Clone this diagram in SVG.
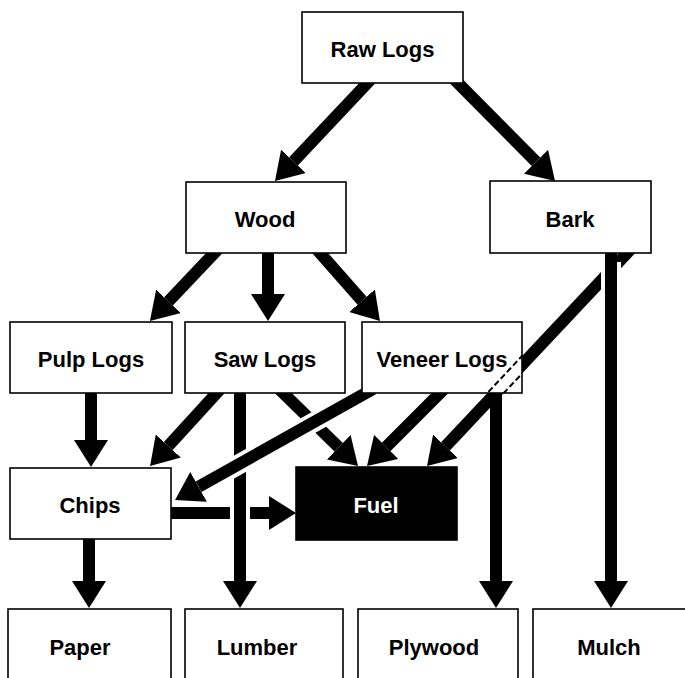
<svg xmlns="http://www.w3.org/2000/svg" width="685" height="678" viewBox="0 0 685 678">
<style>
.box{fill:#fff;stroke:#000;stroke-width:1.6}
.dark{fill:#000;stroke:#000;stroke-width:1.6}
.lbl{font-family:"Liberation Sans",Arial,Helvetica,sans-serif;font-weight:bold;font-size:22px;text-anchor:middle;fill:#000}
.lblw{fill:#fff}
.sh{stroke:#000;stroke-width:12;fill:none;marker-end:url(#ah)}
.halo{stroke:#fff;stroke-width:20;fill:none}
.dash{stroke:#000;stroke-width:2;stroke-dasharray:6 3;fill:none}
</style>
<defs>
<marker id="ah" viewBox="0 -17 27 34" refX="0" refY="0" markerWidth="27" markerHeight="34" markerUnits="userSpaceOnUse" orient="auto">
<path d="M0,-17 L27,0 L0,17 Z" fill="#000"/>
</marker>
<clipPath id="vclip"><rect x="362" y="322" width="160" height="71"/></clipPath>
</defs>
<rect width="685" height="678" fill="#fff"/>
<g id="connectors">
<path class="sh" d="M374,76 L293.5,161.3"/>
<path class="sh" d="M451,76 L536,161.8"/>
<path class="sh" d="M221,246 L168.5,301.3"/>
<path class="sh" d="M268,246 L268,294"/>
<path class="sh" d="M313,245 L362.1,300.7"/>
<path class="sh" d="M91,386 L91,440"/>
<path class="sh" d="M224,385 L168.3,446"/>
<path class="sh" d="M277,387 L338.7,447.2"/>
<path class="sh" d="M447,386 L386.1,446.9"/>
<path class="sh" d="M165,513 L269,513"/>
<path class="sh" d="M89,532 L89,581"/>
<path class="sh" d="M496,386 L496,581"/>
<path class="sh" d="M644,235 L445.5,446.3"/>
<path class="halo" d="M611,262 L611,296"/>
<path class="sh" d="M611,246 L611,581"/>
<path class="halo" d="M240,500 L240,526"/>
<path class="sh" d="M240,386 L240,581"/>
<path class="halo" d="M340,407.6 L220,475"/>
<path class="sh" d="M373,389 L198.6,486.8"/>
</g>
<g id="nodes">
<g id="raw-logs"><rect class="box" x="302" y="12" width="161" height="71"/><text class="lbl" x="382.5" y="57">Raw Logs</text></g>
<g id="wood"><rect class="box" x="186" y="182" width="160" height="71"/><text class="lbl" x="265" y="227">Wood</text></g>
<g id="bark"><rect class="box" x="490" y="181" width="161" height="72"/><text class="lbl" x="570" y="227">Bark</text></g>
<g id="pulp-logs"><rect class="box" x="10" y="322" width="162" height="71"/><text class="lbl" x="91" y="367">Pulp Logs</text></g>
<g id="saw-logs"><rect class="box" x="185" y="322" width="160" height="71"/><text class="lbl" x="265" y="367">Saw Logs</text></g>
<g id="veneer-logs"><rect class="box" x="362" y="322" width="160" height="71"/><text class="lbl" x="442" y="367">Veneer Logs</text>
<g clip-path="url(#vclip)"><path class="dash" d="M554.1,321.8 L451.5,431.2"/><path class="dash" d="M562.9,330 L460.3,439.4"/></g></g>
<g id="chips"><rect class="box" x="10" y="468" width="161" height="71"/><text class="lbl" x="90" y="513">Chips</text></g>
<g id="fuel"><rect class="dark" x="296" y="467" width="161" height="73"/><text class="lbl lblw" x="376" y="513">Fuel</text></g>
<g id="paper"><rect class="box" x="8" y="609" width="163" height="90"/><text class="lbl" x="80" y="655">Paper</text></g>
<g id="lumber"><rect class="box" x="185" y="609" width="158" height="90"/><text class="lbl" x="257" y="655">Lumber</text></g>
<g id="plywood"><rect class="box" x="358" y="609" width="160" height="90"/><text class="lbl" x="434" y="655">Plywood</text></g>
<g id="mulch"><rect class="box" x="533" y="609" width="160" height="90"/><text class="lbl" x="609" y="655">Mulch</text></g>
</g>
</svg>
